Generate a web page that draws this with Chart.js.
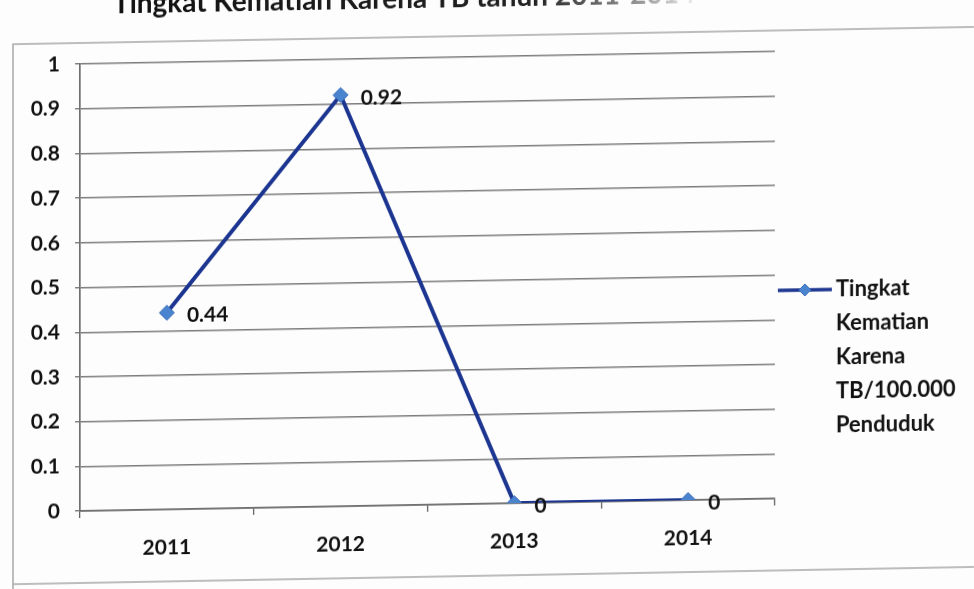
<!DOCTYPE html>
<html>
<head>
<meta charset="utf-8">
<script src="https://cdn.jsdelivr.net/npm/chart.js@4.4.1/dist/chart.umd.min.js"></script>
<style>
  html, body { margin: 0; padding: 0; background: #fdfdfd; overflow: hidden; }
  #wrap { width: 974px; height: 589px; position: relative; }
  #chart { position: absolute; left: 0; top: 0; transform-origin: 80px 0; transform: skewY(-1.03deg); }
</style>
</head>
<body>
<div id="wrap"><canvas id="chart" width="974" height="589"></canvas></div>
<script>
// Mortality rate from tuberculosis per 100,000 population, 2011-2014
const years = ['2011', '2012', '2013', '2014'];
const deathRate = [0.44, 0.92, 0, 0];
const valueLabels = ['0.44', '0.92', '0', '0'];
const yTickLabels = ['0', '0.1', '0.2', '0.3', '0.4', '0.5', '0.6', '0.7', '0.8', '0.9', '1'];
const seriesName = 'Tingkat Kematian Karena TB/100.000 Penduduk';
const legendLines = ['Tingkat', 'Kematian', 'Karena', 'TB/100.000', 'Penduduk'];
const chartTitle = 'Tingkat Kematian Karena TB tahun 2011-2014';

const LINE = '#1c3590';
const MARK = '#4a84cf';
const FONT = 'Lato, "Open Sans", sans-serif';

// page frame and the partly visible heading
const framePlugin = {
  id: 'frame',
  beforeDraw(chart) {
    const ctx = chart.ctx;
    ctx.save();
    ctx.strokeStyle = '#a8a8a8';
    ctx.lineWidth = 1.5;
    ctx.beginPath();
    ctx.moveTo(990, 43);
    ctx.lineTo(13, 43);
    ctx.lineTo(13, 600);
    ctx.moveTo(13, 583);
    ctx.lineTo(990, 583);
    ctx.stroke();
    ctx.font = 'bold 28px ' + FONT;
    const g = ctx.createLinearGradient(115, 0, 700, 0);
    g.addColorStop(0, '#111');
    g.addColorStop(0.72, '#222');
    g.addColorStop(0.9, '#999');
    g.addColorStop(1, '#f2f2f2');
    ctx.fillStyle = g;
    ctx.textBaseline = 'alphabetic';
    ctx.fillText(chartTitle, 113, 14);
    ctx.restore();
  }
};

// value labels beside each point
const valueLabelPlugin = {
  id: 'valueLabels',
  afterDatasetsDraw(chart) {
    const ctx = chart.ctx;
    const meta = chart.getDatasetMeta(0);
    ctx.save();
    ctx.font = 'bold 21px ' + FONT;
    ctx.fillStyle = '#111';
    ctx.textBaseline = 'middle';
    ctx.textAlign = 'left';
    meta.data.forEach((pt, i) => {
      ctx.fillText(valueLabels[i], pt.x + 20, pt.y + 3);
    });
    ctx.restore();
  }
};

// legend on the right with wrapped series name
const sideLegendPlugin = {
  id: 'sideLegend',
  afterDraw(chart) {
    const ctx = chart.ctx;
    const ds = chart.data.datasets[0];
    const x0 = 778, x1 = 832, y0 = 303;
    ctx.save();
    ctx.strokeStyle = ds.borderColor;
    ctx.lineWidth = 3.5;
    ctx.beginPath();
    ctx.moveTo(x0, y0);
    ctx.lineTo(x1, y0);
    ctx.stroke();
    const cx = (x0 + x1) / 2, r = 6;
    ctx.fillStyle = ds.pointBackgroundColor;
    ctx.strokeStyle = ds.pointBorderColor;
    ctx.lineWidth = 1;
    ctx.beginPath();
    ctx.moveTo(cx, y0 - r);
    ctx.lineTo(cx + r, y0);
    ctx.lineTo(cx, y0 + r);
    ctx.lineTo(cx - r, y0);
    ctx.closePath();
    ctx.fill();
    ctx.stroke();
    ctx.font = 'bold 22px ' + FONT;
    ctx.fillStyle = '#111';
    ctx.textBaseline = 'middle';
    legendLines.forEach((t, i) => ctx.fillText(t, x1 + 4, y0 + i * 34));
    ctx.restore();
  }
};

new Chart(document.getElementById('chart'), {
  type: 'line',
  data: {
    labels: years,
    datasets: [{
      label: seriesName,
      data: deathRate,
      borderColor: LINE,
      borderWidth: 4,
      pointStyle: 'rectRot',
      pointRadius: 7.5,
      pointBackgroundColor: MARK,
      pointBorderColor: '#3a6cb8',
      pointBorderWidth: 1,
      tension: 0,
      fill: false
    }]
  },
  options: {
    responsive: false,
    devicePixelRatio: 1,
    animation: false,
    layout: { padding: { left: 0, top: 64, right: 199, bottom: 0 } },
    plugins: {
      legend: { display: false },
      tooltip: { enabled: false },
      title: { display: false }
    },
    scales: {
      x: {
        offset: true,
        afterFit(scale) { scale.height = 78; },
        grid: { offset: true, drawOnChartArea: false, drawTicks: true, tickLength: 7, color: '#666', lineWidth: 1.3 },
        border: { color: '#6f6f6f', width: 1.7 },
        ticks: { color: '#111', padding: 19, font: { family: FONT, size: 21, weight: 'bold' } }
      },
      y: {
        min: 0,
        max: 1,
        afterFit(scale) { scale.width = 80; },
        grid: { color: '#7c7c7c', lineWidth: 1.4, tickLength: 5 },
        border: { color: '#6f6f6f', width: 1.7 },
        ticks: {
          stepSize: 0.1,
          color: '#111',
          padding: 15,
          font: { family: FONT, size: 21, weight: 'bold' },
          callback: (v) => yTickLabels[Math.round(v * 10)]
        }
      }
    }
  },
  plugins: [framePlugin, valueLabelPlugin, sideLegendPlugin]
});
</script>
</body>
</html>
